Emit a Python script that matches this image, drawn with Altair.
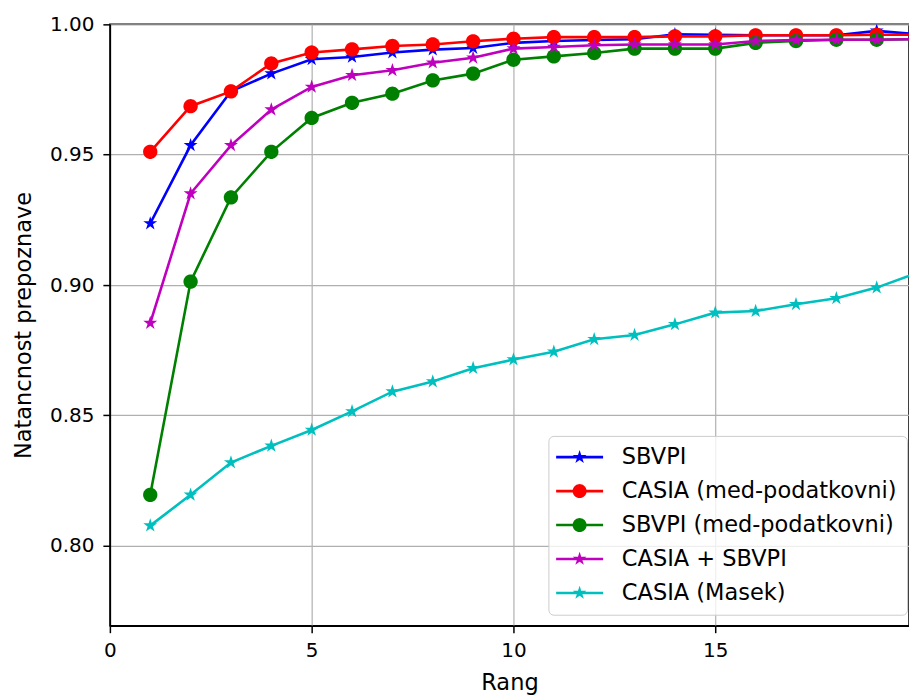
import math
import altair as alt
import pandas as pd

# ---------------- data ----------------
rank = list(range(1, 21))

sbvpi = [0.9236, 0.9536, 0.9743, 0.9811, 0.9866, 0.9875, 0.9892, 0.9903, 0.9909, 0.9929,
         0.9936, 0.9940, 0.9943, 0.9962, 0.9960, 0.9958, 0.9958, 0.9958, 0.9975, 0.9962]
casia_cross = [0.9511, 0.9686, 0.9743, 0.9850, 0.9892, 0.9904, 0.9917, 0.9923, 0.9935, 0.9945,
               0.9951, 0.9951, 0.9951, 0.9954, 0.9954, 0.9958, 0.9958, 0.9958, 0.9960, 0.9960]
sbvpi_cross = [0.8195, 0.9013, 0.9336, 0.9511, 0.9641, 0.9699, 0.9734, 0.9785, 0.9811, 0.9864,
               0.9877, 0.9890, 0.9907, 0.9907, 0.9907, 0.9929, 0.9936, 0.9941, 0.9941, 0.9943]
casia_sbvpi = [0.8854, 0.9351, 0.9536, 0.9673, 0.9760, 0.9805, 0.9824, 0.9853, 0.9872, 0.9907,
               0.9913, 0.9920, 0.9923, 0.9923, 0.9923, 0.9936, 0.9940, 0.9941, 0.9941, 0.9943]
casia_masek = [0.8077, 0.8195, 0.8319, 0.8383, 0.8444, 0.8515, 0.8591, 0.8630, 0.8681, 0.8714,
               0.8744, 0.8792, 0.8808, 0.8849, 0.8894, 0.8900, 0.8926, 0.8949, 0.8990, 0.9046]

series_names = ["SBVPI", "CASIA (med-podatkovni)", "SBVPI (med-podatkovni)",
                "CASIA + SBVPI", "CASIA (Masek)"]
series_values = [sbvpi, casia_cross, sbvpi_cross, casia_sbvpi, casia_masek]
series_markers = ["star", "circle", "circle", "star", "star"]
series_colors = ["#0000ff", "#ff0000", "#008000", "#bf00bf", "#00bfbf"]

x_ticks = [0, 5, 10, 15]
y_ticks = [0.80, 0.85, 0.90, 0.95, 1.00]

rows = []
for name, vals, mk in zip(series_names, series_values, series_markers):
    for r, v in zip(rank, vals):
        rows.append({"rang": r, "acc": v, "series": name, "marker": mk})
df = pd.DataFrame(rows)

# ---------------- marker shapes ----------------
def star_pts(ro, ri):
    pts = []
    for k in range(10):
        a = math.radians(-90 + 36 * k)
        r = ro if k % 2 == 0 else ri
        pts.append((r * math.cos(a), r * math.sin(a)))
    return pts

def circle_pts(r, n=40):
    return [(r * math.cos(2 * math.pi * k / n), r * math.sin(2 * math.pi * k / n)) for k in range(n)]

def poly(pts):
    return "M" + "L".join(f"{x:.4f},{y:.4f}" for x, y in pts) + "Z"

plot_star = poly(star_pts(1.0, 0.382))
plot_circle = poly(circle_pts(1.0))
plot_shape = {"star": plot_star, "circle": plot_circle}
plot_size = {"star": 215, "circle": 205}

# legend symbols: unit = 11 px (symbol size 22^2)
U = 11.0
leg_line = poly([(-23.5 / U, -1.3 / U), (23.5 / U, -1.3 / U), (23.5 / U, 1.3 / U), (-23.5 / U, 1.3 / U)])
leg_star = leg_line + poly(star_pts(7.2 / U, 2.75 / U))
leg_circle = leg_line + poly(circle_pts(7.0 / U))
legend_paths = [leg_star if m == "star" else leg_circle for m in series_markers]

# ---------------- encodings ----------------
FONT = "DejaVu Sans"
x_enc = alt.X("rang:Q", scale=alt.Scale(domain=[0, 19.8], nice=False, zero=False),
              axis=alt.Axis(values=x_ticks, title="Rang", format="d"))
y_enc = alt.Y("acc:Q", scale=alt.Scale(domain=[0.7693, 1.0], nice=False, zero=False),
              axis=alt.Axis(values=y_ticks, title="Natancnost prepoznave", format=".2f"))
color_scale = alt.Scale(domain=series_names, range=series_colors)

legend_def = alt.Legend(
    title=None, orient="none", legendX=439, legendY=412,
    symbolSize=484, symbolStrokeWidth=0, symbolOpacity=1, symbolOffset=10,
    labelFont=FONT, labelFontSize=22.5, labelColor="#000000", labelOffset=31,
    rowPadding=11, padding=10, strokeColor="#cccccc", cornerRadius=5,
    fillColor="rgba(255,255,255,0.8)", labelLimit=400,
)

legend_layer = alt.Chart(df).mark_point(filled=True, opacity=0, size=484, clip=True).encode(
    x=x_enc, y=y_enc,
    color=alt.Color("series:N", scale=color_scale, legend=legend_def),
    shape=alt.Shape("series:N", scale=alt.Scale(domain=series_names, range=legend_paths),
                    legend=legend_def),
)

layers = [legend_layer]
for name, mk in zip(series_names, series_markers):
    base = alt.Chart(df).transform_filter(alt.datum.series == name)
    ln = base.mark_line(strokeWidth=2.6, clip=True).encode(
        x=x_enc, y=y_enc, color=alt.Color("series:N", scale=color_scale, legend=None))
    pt = base.mark_point(filled=True, opacity=1, shape=plot_shape[mk], size=plot_size[mk],
                         clip=True).encode(
        x=x_enc, y=y_enc, color=alt.Color("series:N", scale=color_scale, legend=None))
    layers += [ln, pt]

chart = alt.layer(*layers).properties(
    width=800, height=602,
    padding={"left": 110, "top": 24, "right": 0, "bottom": 69},
    autosize=alt.AutoSizeParams(type="none"),
    background="white",
).configure_axis(
    labelFont=FONT, labelFontSize=20, labelColor="#000000", labelFlush=False,
    titleFont=FONT, titleFontSize=22.5, titleFontWeight="normal", titleColor="#000000",
    domainColor="#000000", domainWidth=1.5, tickColor="#000000", tickWidth=1.5,
    tickSize=7, gridColor="#b0b0b0", gridWidth=1.2,
).configure_axisY(
    titlePadding=14, labelPadding=9,
).configure_axisX(
    titlePadding=11, labelPadding=8,
).configure_view(stroke="#000000", strokeWidth=1.5)

chart.save("out.html", embed_options={"renderer": "svg", "actions": False})
